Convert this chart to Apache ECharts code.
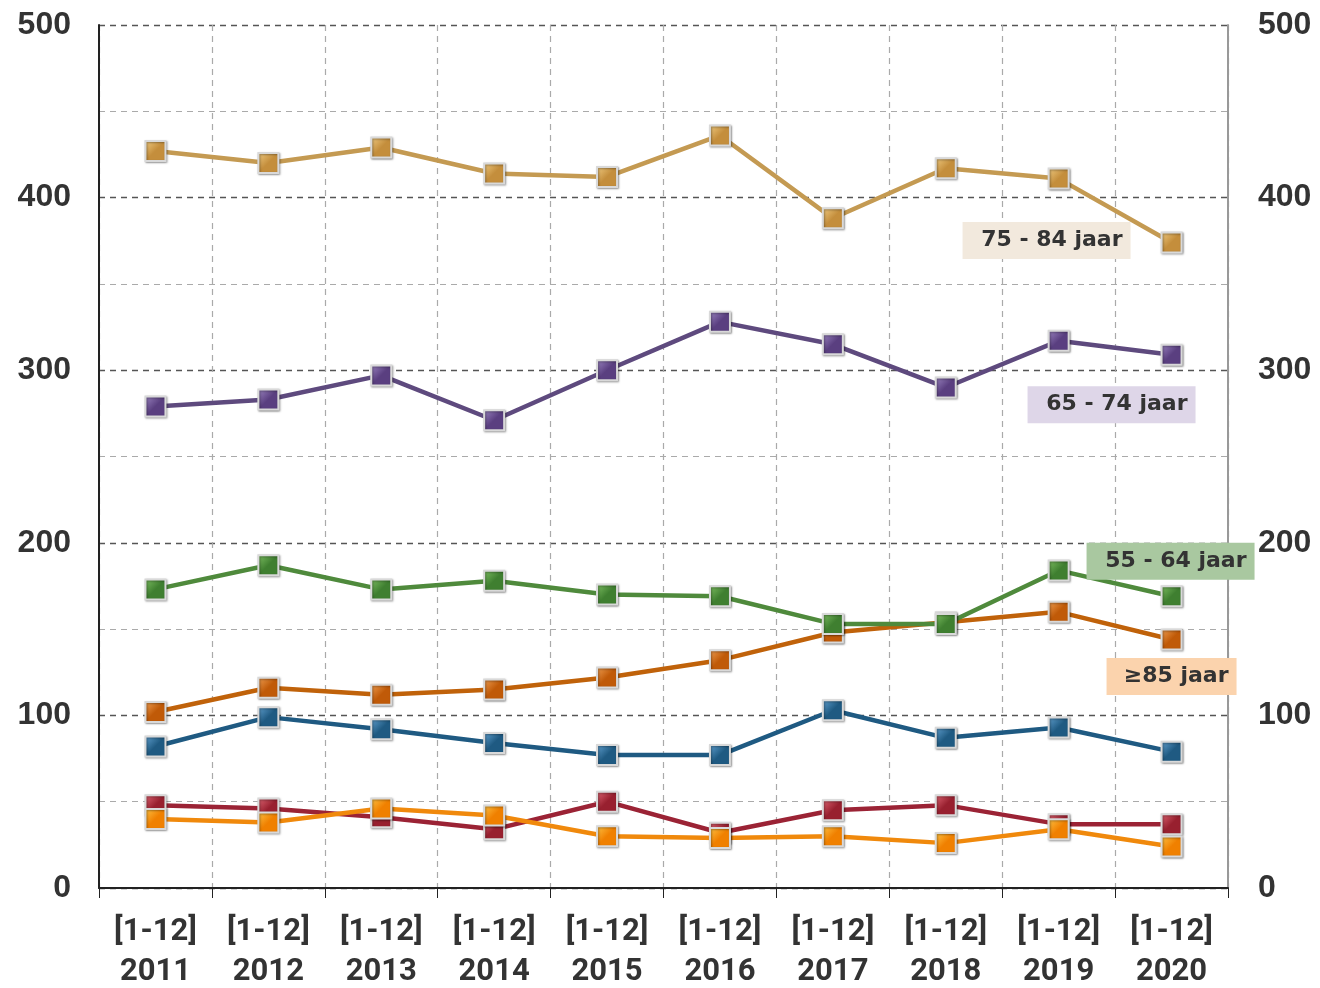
<!DOCTYPE html>
<html>
<head>
<meta charset="utf-8">
<script src="https://cdn.jsdelivr.net/npm/echarts@6/dist/echarts.min.js"></script>
<style>
  html, body { margin: 0; padding: 0; background: #fff; }
  #chart { width: 1320px; height: 988px; }
</style>
</head>
<body>
<div id="chart"></div>
<script>
// categorieen (jaren)
const years = ['2011', '2012', '2013', '2014', '2015', '2016', '2017', '2018', '2019', '2020'];
const yTicks = [0, 100, 200, 300, 400, 500];

// waarden per leeftijdsgroep
const age75_84 = [427, 420, 429, 414, 412, 436, 388, 417, 411, 374];
const age65_74 = [279, 283, 297, 271, 300, 328, 315, 290, 317, 309];
const age55_64 = [173, 187, 173, 178, 170, 169, 153, 153, 184, 169];
const age85plus = [102, 116, 112, 115, 122, 132, 148, 154, 160, 144];
const groupBlue = [82, 99, 92, 84, 77, 77, 103, 87, 93, 79];
const groupRed = [48, 46, 41, 34, 50, 32, 45, 48, 37, 37];
const groupOrange = [40, 38, 46, 42, 30, 29, 30, 26, 34, 24];

const fontNum = 'Liberation Sans, Arial, sans-serif';
const fontLbl = 'DejaVu Sans, sans-serif';

function marker(light, dark) {
    return {
        type: 'linear', x: 0, y: 0, x2: 1, y2: 1,
        colorStops: [
            { offset: 0, color: light },
            { offset: 0.5, color: dark },
            { offset: 1, color: dark }
        ]
    };
}

// bouwt een lijnserie, met optioneel een label bij het laatste punt
function line(name, values, lineColor, light, dark, tag) {
    const data = values.map((v, i) => {
        if (tag && i === values.length - 1) {
            return {
                value: v,
                label: {
                    show: true,
                    position: 'inside',
                    offset: tag.offset,
                    formatter: name,
                    color: '#333',
                    fontFamily: fontLbl,
                    fontWeight: 'bold',
                    fontSize: 22,
                    backgroundColor: tag.bg,
                    padding: [7, 8, 8, 22],
                    width: tag.width,
                    align: 'right'
                }
            };
        }
        return v;
    });
    return {
        name: name,
        type: 'line',
        data: data,
        symbol: 'rect',
        symbolSize: 20,
        lineStyle: { color: lineColor, width: 4.5 },
        itemStyle: {
            color: marker(light, dark),
            borderColor: '#d9d9d9',
            borderWidth: 2,
            shadowColor: 'rgba(0,0,0,0.35)',
            shadowBlur: 2,
            shadowOffsetX: 1,
            shadowOffsetY: 1
        },
        emphasis: { disabled: true },
        animation: false
    };
}

let mychart = echarts.init(document.getElementById('chart'));

const yCommon = {
    type: 'value',
    min: 0,
    max: 500,
    interval: 100,
    axisTick: { show: false },
    axisLabel: {
        fontFamily: fontNum,
        fontWeight: 'bold',
        fontSize: 32,
        color: '#333',
        formatter: v => yTicks.includes(v) ? String(v) : ''
    }
};

mychart.setOption({
    animation: false,
    grid: { left: 99, right: 92, top: 25, bottom: 100, outerBoundsMode: 'none' },
    xAxis: {
        type: 'category',
        data: years,
        boundaryGap: true,
        axisLine: { show: true, lineStyle: { color: '#222', width: 2 } },
        axisTick: { show: true, length: 10, lineStyle: { color: '#222' } },
        splitLine: { show: true, lineStyle: { color: '#aaa', type: [6, 5], width: 1.2 } },
        axisLabel: {
            margin: 24,
            fontFamily: 'Roboto, sans-serif',
            fontWeight: 'bold',
            fontSize: 31,
            lineHeight: 40,
            color: '#333',
            formatter: y => '[1-12]\n' + y
        }
    },
    yAxis: [
        Object.assign({}, yCommon, {
            position: 'left',
            axisLine: { show: true, lineStyle: { color: '#222', width: 2 } },
            axisLabel: Object.assign({}, yCommon.axisLabel, { margin: 28 }),
            splitLine: { show: true, lineStyle: { color: '#555', type: [6, 5], width: 1.3 } },
            minorTick: { show: false, splitNumber: 2 },
            minorSplitLine: { show: true, lineStyle: { color: '#aaa', type: [6, 5], width: 1.2 } }
        }),
        Object.assign({}, yCommon, {
            position: 'right',
            axisLine: { show: true, lineStyle: { color: '#999', width: 2 } },
            axisLabel: Object.assign({}, yCommon.axisLabel, { margin: 30 }),
            splitLine: { show: false }
        })
    ],
    series: [
        line('75 - 84 jaar', age75_84, '#c49a52', '#f3cf86', '#c48e3c',
            { offset: [-41, -2], bg: '#f2e9dd', width: 138 }),
        line('65 - 74 jaar', age65_74, '#5e4a7e', '#a08ac6', '#5a3f80',
            { offset: [24, 50], bg: '#ded6e8', width: 138 }),
        line('≥85 jaar', age85plus, '#c0620a', '#f4a457', '#c05a08',
            { offset: [65, 37], bg: '#fbd3ad', width: 100 }),
        line('55 - 64 jaar', age55_64, '#4f8a3c', '#82c466', '#3f7f30',
            { offset: [83, -35], bg: '#a9c8a0', width: 138 }),
        line('blauw', groupBlue, '#1f5a82', '#66a6d6', '#1f5a82'),
        line('rood', groupRed, '#9b2335', '#e46a78', '#98202f'),
        line('oranje', groupOrange, '#f0890c', '#ffc84a', '#f08000')
    ]
});
</script>
</body>
</html>
